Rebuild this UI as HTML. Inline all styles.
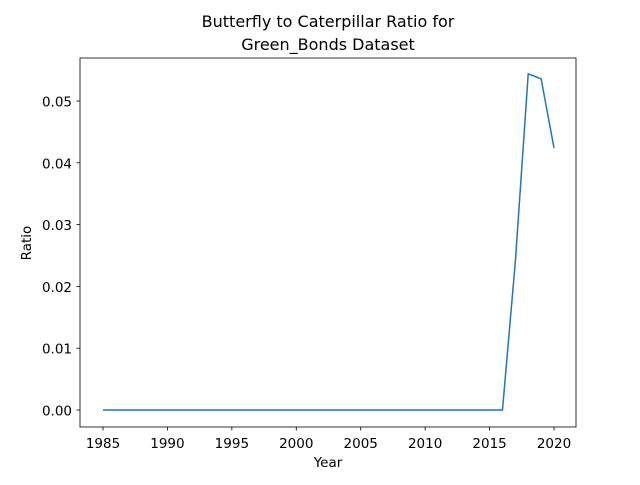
<!DOCTYPE html>
<html><head><meta charset="utf-8"><style>
body{margin:0;background:#fff}
svg{font-family:"DejaVu Sans","Liberation Sans",sans-serif}
</style></head><body>
<svg id="chart" width="640" height="480">
<rect width="640" height="480" fill="#fff"/>
<text x="328" y="27" font-size="16" text-anchor="middle">Butterfly to Caterpillar Ratio for</text>
<text x="328" y="50" font-size="16" text-anchor="middle">Green_Bonds Dataset</text>
<g id="axes"></g>
<rect x="80" y="58" width="496" height="369" fill="none" stroke="#000" stroke-width="0.8"/>
<text x="328" y="467" font-size="13.5" text-anchor="middle">Year</text>
<text x="31" y="243" font-size="13.5" text-anchor="middle" transform="rotate(-90 31 243)">Ratio</text>
</svg>
<script>
const years=[];for(let y=1985;y<=2020;y++)years.push(y);
const ratios=[0,0,0,0,0,0,0,0,0,0,0,0,0,0,0,0,0,0,0,0,0,0,0,0,0,0,0,0,0,0,0,0,0.024,0.0544,0.0536,0.0424];
const xTicks=[1985,1990,1995,2000,2005,2010,2015,2020];
const yTicks=[0,0.01,0.02,0.03,0.04,0.05];
const yTickLabels=["0.00","0.01","0.02","0.03","0.04","0.05"];
const xs=v=>103+(v-1985)*(451/35);
const ys=v=>410-v*6180;
const ns="http://www.w3.org/2000/svg";
const g=document.getElementById('axes');
function mk(t,a){const e=document.createElementNS(ns,t);for(const k in a)e.setAttribute(k,a[k]);g.appendChild(e);return e;}
xTicks.forEach(t=>{
 const l=mk('line',{x1:xs(t),x2:xs(t),y1:427,y2:430.5,stroke:'#000','stroke-width':0.8});
 
 
 const tx=mk('text',{x:xs(t),y:448,'font-size':13.5,'text-anchor':'middle'});tx.textContent=t;
 
 
});
yTicks.forEach((t,i)=>{
 const l=mk('line',{x1:76.5,x2:80,y1:ys(t),y2:ys(t),stroke:'#000','stroke-width':0.8});
 
 
 const tx=mk('text',{x:72,y:ys(t)+5.5,'font-size':13.5,'text-anchor':'end'});tx.textContent=yTickLabels[i];
 
 
});
const p=mk('polyline',{points:years.map((y,i)=>xs(y)+','+ys(ratios[i])).join(' '),fill:'none',stroke:'#1f77b4','stroke-width':1.5});


</script>
</body></html>
